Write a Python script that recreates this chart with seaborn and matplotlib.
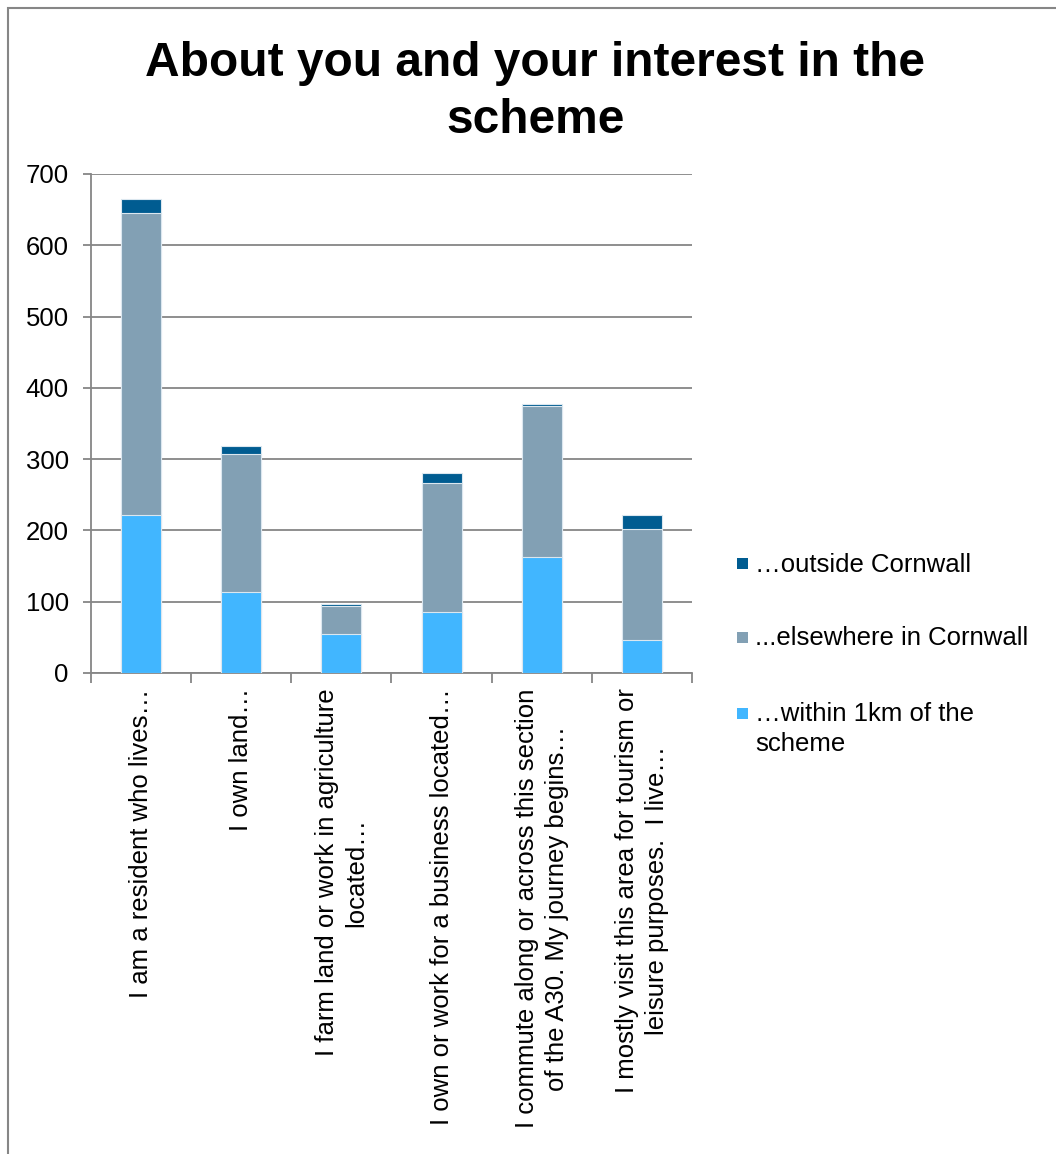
import matplotlib
matplotlib.use("Agg")
import matplotlib.pyplot as plt
from matplotlib.patches import Rectangle
import numpy as np
import pandas as pd
import seaborn as sns

# Survey responses by interest type and where the respondent lives
categories = [
    "I am a resident who lives…",
    "I own land…",
    "I farm land or work in agriculture\nlocated…",
    "I own or work for a business located…",
    "I commute along or across this section\nof the A30. My journey begins…",
    "I mostly visit this area for tourism or\nleisure purposes.  I live…",
]
within_1km = [221, 114, 55, 86, 163, 46]
elsewhere_cornwall = [424, 193, 39, 181, 211, 156]
outside_cornwall = [20, 11, 3, 13, 4, 19]

series_labels = ["…outside Cornwall", "...elsewhere in Cornwall", "…within 1km of the\nscheme"]
col_outside = "#005C91"
col_elsewhere = "#82A0B4"
col_within = "#41B6FF"
grid_col = "#868686"

df = pd.DataFrame({
    "category": categories,
    "within": within_1km,
    "elsewhere": elsewhere_cornwall,
    "outside": outside_cornwall,
})
df["mid"] = df["within"] + df["elsewhere"]
df["total"] = df["mid"] + df["outside"]

sns.set_style("white")
plt.rcParams["font.family"] = ["Liberation Sans", "DejaVu Sans"]
plt.rcParams["text.color"] = "black"
plt.rcParams["xtick.color"] = "black"
plt.rcParams["ytick.color"] = "black"

fig = plt.figure(figsize=(10.56, 11.54), dpi=100)
ax = fig.add_axes([91 / 1056, 1 - 673 / 1154, (692 - 91) / 1056, (673 - 174) / 1154])

# Stacked bars drawn as overlapping cumulative totals
edge = dict(edgecolor="#dbe7ef", linewidth=0.8)
for col, color in [("total", col_outside), ("mid", col_elsewhere), ("within", col_within)]:
    sns.barplot(data=df, x="category", y=col, order=categories, color=color,
                saturation=1, width=0.4, errorbar=None, ax=ax, zorder=3, **edge)

ax.set_ylim(0, 700)
ax.set_xlim(-0.5, len(categories) - 0.5)
ax.set_yticks(np.arange(0, 701, 100))
ax.yaxis.grid(True, color=grid_col, linewidth=1.3)
ax.set_axisbelow(True)
ax.set_xlabel("")
ax.set_ylabel("")

for side in ["top", "right"]:
    ax.spines[side].set_visible(False)
for side in ["left", "bottom"]:
    ax.spines[side].set_color(grid_col)
    ax.spines[side].set_linewidth(1.3)

ax.tick_params(axis="y", which="major", direction="out", length=6, width=1.3,
               color=grid_col, labelcolor="black", labelsize=18.5, pad=10, left=True)
ax.set_xticks(np.arange(len(categories)))
ax.set_xticklabels(categories, rotation=90, ha="center", va="top",
                   multialignment="center", fontsize=18.5, linespacing=1.3,
                   color="black")
ax.tick_params(axis="x", which="major", length=0, pad=11)
ax.set_xticks(np.arange(-0.5, len(categories)), minor=True)
ax.tick_params(axis="x", which="minor", direction="out", length=7, width=1.3,
               color=grid_col, bottom=True)

# Legend: squares aligned with the first line of each entry
legend_colors = [col_outside, col_elsewhere, col_within]
legend_y = [564, 637, 713]
for color, label, y in zip(legend_colors, series_labels, legend_y):
    fig.patches.append(Rectangle((737 / 1056, 1 - (y + 5.5) / 1154), 11 / 1056, 11 / 1154,
                                 transform=fig.transFigure, facecolor=color,
                                 edgecolor="none"))
    fig.text(755 / 1056, 1 - (y - 11) / 1154, label, ha="left", va="top",
             fontsize=18.5, linespacing=1.3, color="black")

# Title
fig.text(0.507, 1 - 92 / 1154, "About you and your interest in the\nscheme",
         ha="center", va="center", fontsize=34.5, fontweight="bold",
         linespacing=1.35, color="black")

# Chart area frame
fig.patches.append(Rectangle((8 / 1056, -0.05), 1.2, 1.05 - 8 / 1154,
                             transform=fig.transFigure, fill=False,
                             edgecolor=grid_col, linewidth=1.5))

fig.savefig("out.png", dpi=100)
